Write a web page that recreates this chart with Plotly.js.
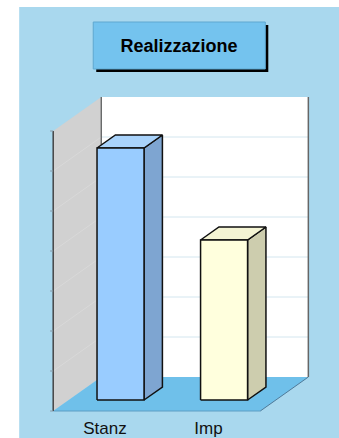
<!DOCTYPE html>
<html>
<head>
<meta charset="utf-8">
<script src="https://cdn.plot.ly/plotly-3.0.1.min.js"></script>
<style>html,body{margin:0;padding:0;background:#fff;}#chart{width:339px;height:438px;}</style>
</head>
<body>
<div id="chart"></div>
<script>
// ---- data ----
const categories = ['Stanz', 'Imp'];
const values = [6.3, 4.0];
const gridValues = [1, 2, 3, 4, 5, 6, 7];
const axisMax = 7;
const titleText = 'Realizzazione';

// ---- styling ----
const frontColors = ['#99CCFF', '#FFFFDD'];
const sideColors = ['#7EA5D1', '#CDCDAE'];
const topColors = ['#A9D3FB', '#F4F4D4'];
const bgBlue = '#A9D8EE';

// 3D projection (depth vector in axis units)
const DX = 0.464, DY = 0.85;
const f0 = 0.3235, f1 = 0.706;   // bar front/back depth fractions
const hw = 0.227;                 // bar half width
const xLeft = -0.5, xRight = 1.5;

const traces = [];
function poly(xs, ys, fill, line, lw) {
  traces.push({type: 'scatter', mode: 'lines', x: xs.concat([xs[0]]), y: ys.concat([ys[0]]),
    fill: 'toself', fillcolor: fill, line: {color: line || fill, width: lw || 0},
    hoverinfo: 'skip', showlegend: false});
}
function seg(xs, ys, color, w) {
  traces.push({type: 'scatter', mode: 'lines', x: xs, y: ys,
    line: {color: color, width: w}, hoverinfo: 'skip', showlegend: false});
}

// back wall
poly([xLeft + DX, xRight + DX, xRight + DX, xLeft + DX], [DY, DY, axisMax + DY, axisMax + DY], '#FFFFFF');
// side wall
poly([xLeft, xLeft, xLeft + DX, xLeft + DX], [0, axisMax, axisMax + DY, DY], '#D1D1D1');
// gridlines on back wall and side wall
gridValues.slice(0, -1).forEach(v => {
  seg([xLeft + DX, xRight + DX], [v + DY, v + DY], '#D3E6EF', 1);
  seg([xLeft, xLeft + DX], [v, v + DY], '#D9D9D9', 1);
});
// floor
poly([xLeft, xRight, xRight + DX, xLeft + DX], [0, 0, DY, DY], '#6FC0EA');
seg([xLeft, xRight], [0, 0], '#5E9DC4', 1.2);
seg([xRight, xRight + DX], [0, DY], '#4F7A99', 1);
// wall edges
seg([xLeft + DX, xLeft + DX], [DY, axisMax + DY], '#555555', 1.2);
seg([xRight + DX, xRight + DX], [DY, axisMax + DY], '#666666', 1.5);
seg([xLeft, xLeft], [0, axisMax], '#444444', 1.5);
[0].concat(gridValues).forEach(v => seg([xLeft - 0.03, xLeft], [v, v], '#8A9AA6', 1));

// bars
values.forEach((v, i) => {
  const x0 = i - hw, x1 = i + hw;
  const fx = f0 * DX, fy = f0 * DY, bx = f1 * DX, by = f1 * DY;
  // side
  poly([x1 + fx, x1 + bx, x1 + bx, x1 + fx], [fy, by, by + v, fy + v], sideColors[i], '#111111', 1.5);
  // top
  poly([x0 + fx, x1 + fx, x1 + bx, x0 + bx], [fy + v, fy + v, by + v, by + v], topColors[i], '#111111', 1.5);
  // front
  poly([x0 + fx, x1 + fx, x1 + fx, x0 + fx], [fy, fy, fy + v, fy + v], frontColors[i], '#111111', 1.5);
});

const pxCat = 103.5, pxVal = 40;
const xmin = -0.56, xmax = 1.98, ymin = -0.05, ymax = 7.9;
const ml = 53 + (xmin - xLeft) * pxCat;
const mr = 339 - (53 + (xmax - xLeft) * pxCat);
const mb = 438 - (411 - ymin * pxVal);
const mt = 411 - ymax * pxVal;

function px2paperX(p) { return (p - ml) / (339 - ml - mr); }
function px2paperY(p) { return (438 - mb - p) / (438 - mb - mt); }

const layout = {
  width: 339, height: 438,
  margin: {l: ml, r: mr, t: mt, b: mb, pad: 0},
  paper_bgcolor: '#FFFFFF', plot_bgcolor: 'rgba(0,0,0,0)',
  showlegend: false,
  font: {family: 'Liberation Sans, Arial, sans-serif', color: '#111'},
  title: {text: '<b>' + titleText + '</b>', font: {size: 18, color: '#000', family: 'Liberation Sans, Arial, sans-serif'},
    xref: 'container', yref: 'container', x: 179 / 339, xanchor: 'center', y: 1 - 46 / 438, yanchor: 'middle'},
  xaxis: {range: [xmin, xmax], tickvals: [0, 1], ticktext: categories, showgrid: false, zeroline: false,
    showline: false, ticks: '', tickfont: {size: 17, color: '#111'}, ticklabelstandoff: 3, fixedrange: true},
  yaxis: {range: [ymin, ymax], showgrid: false, zeroline: false, showline: false, showticklabels: false,
    ticks: '', fixedrange: true},
  shapes: [
    {type: 'rect', xref: 'paper', yref: 'paper', layer: 'below', x0: px2paperX(19), x1: px2paperX(345),
      y0: px2paperY(445), y1: px2paperY(7), fillcolor: bgBlue, line: {width: 0}},
    {type: 'rect', xref: 'paper', yref: 'paper', layer: 'below', x0: px2paperX(96), x1: px2paperX(268),
      y0: px2paperY(72), y1: px2paperY(25), fillcolor: '#000000', line: {width: 0}},
    {type: 'rect', xref: 'paper', yref: 'paper', layer: 'below', x0: px2paperX(93), x1: px2paperX(265),
      y0: px2paperY(69), y1: px2paperY(22), fillcolor: '#74C3EE', line: {color: '#5FA8D0', width: 1}}
  ]
};

Plotly.newPlot('chart', traces, layout, {displayModeBar: false, staticPlot: true});
</script>
</body>
</html>
